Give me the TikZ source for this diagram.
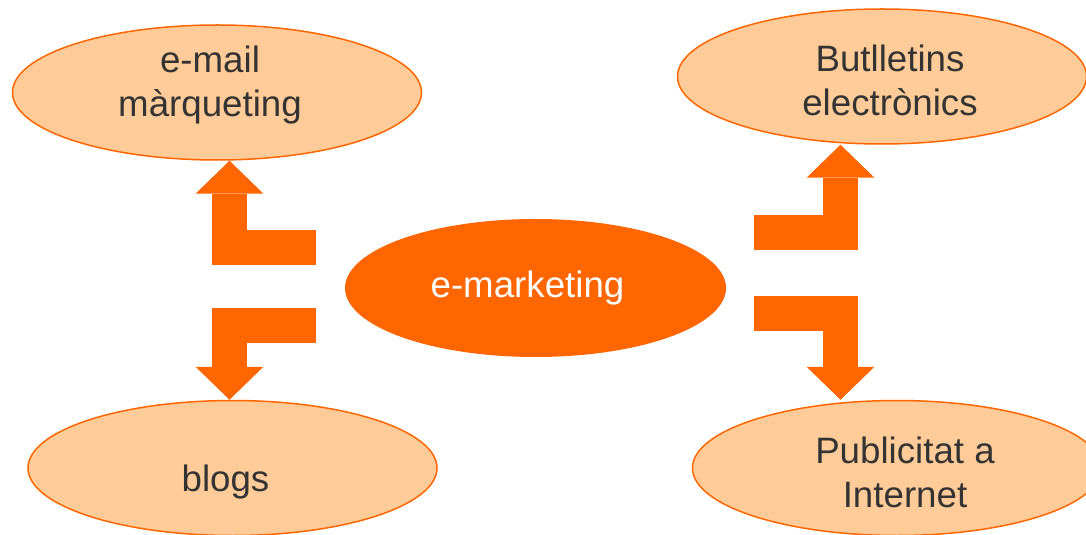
\documentclass[tikz,border=0pt]{standalone}
\usepackage{fontspec}
\setmainfont{Liberation Sans}
\usetikzlibrary{positioning}
\usetikzlibrary{shapes.geometric,arrows.meta}

\definecolor{emorange}{HTML}{FF6600}
\definecolor{empeach}{HTML}{FFCC99}
\definecolor{emgrey}{HTML}{333333}
\newcommand{\topicfont}{\fontsize{36.7bp}{44bp}\selectfont}

\begin{document}
\begin{tikzpicture}[x=1bp, y=-1bp, on grid,
        mainnode/.style={ellipse, fill=emorange, minimum width=381bp, minimum height=138bp, inner sep=0pt},
        topicnode/.style={ellipse, draw=emorange, fill=empeach, line width=1.5bp, minimum width=409bp, minimum height=135bp, inner sep=0pt},
        topictext/.style={align=center, text=emgrey, font=\topicfont},
        bentarrow/.style={draw=emorange, line width=35bp, -{Triangle[width=68bp, length=33bp, line width=0pt]}}]
            \useasboundingbox (0,0) rectangle (1086,535);
            \node[mainnode, label={[topictext, text=white, xshift=-8bp]center:e-marketing}] (emk) at (535.5,288) {};
            \node[topicnode, label={[topictext, xshift=-7bp, yshift=7bp]center:{e-mail\\màrqueting}}]
                (mail)  [above left=195.5bp and 318.5bp of emk]  {};
            \node[topicnode, label={[topictext, xshift=8bp, yshift=-4bp]center:{Butlletins\\electrònics}}]
                (butl)  [above right=211.5bp and 346.5bp of emk] {};
            \node[topicnode, label={[topictext, xshift=-7bp, yshift=-14bp]center:blogs}]
                (blogs) [below left=180bp and 303bp of emk]      {};
            \node[topicnode, label={[topictext, xshift=8bp, yshift=-4bp]center:{Publicitat a\\Internet}}]
                (publi) [below right=180bp and 361.5bp of emk]   {};
            \coordinate (mailfoot)  at (316,248);
            \coordinate (blogsfoot) at (316,326);
            \coordinate (butlfoot)  at (754,233);
            \coordinate (publifoot) at (754,313.5);
            \draw[bentarrow] (mailfoot) -| ([xshift=12.5bp]mail.south);
            \draw[bentarrow] (blogsfoot) -| ([xshift=-3bp]blogs.north);
            \draw[bentarrow] (butlfoot) -| ([xshift=-41.5bp]butl.south);
            \draw[bentarrow] (publifoot) -| ([xshift=-56.5bp]publi.north);
        \end{tikzpicture}
\end{document}
